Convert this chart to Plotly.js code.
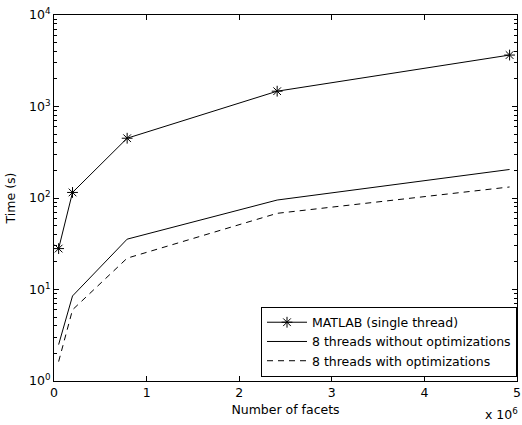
<!DOCTYPE html>
<html>
<head>
<meta charset="utf-8">
<script src="https://cdn.plot.ly/plotly-3.0.1.min.js"></script>
<style>html,body{margin:0;padding:0;background:#fff;}#chart{width:522px;height:425px;}</style>
</head>
<body>
<div id="chart"></div>
<script>
var facets = [0.05e6, 0.2e6, 0.79e6, 2.41e6, 4.92e6];
var matlabTimes = [28, 115, 450, 1470, 3650];
var noOptTimes = [2.5, 8.5, 35.5, 95, 205];
var optTimes = [1.63, 6.0, 22, 68, 132];
var seriesNames = ["MATLAB (single thread)", "8 threads without optimizations", "8 threads with optimizations"];
var xTickVals = [0, 1e6, 2e6, 3e6, 4e6, 5e6];
var xTickText = ["0", "1", "2", "3", "4", "5"];
var yTickVals = [1, 10, 100, 1000, 10000];
var yTickText = ["10<sup>0</sup>", "10<sup>1</sup>", "10<sup>2</sup>", "10<sup>3</sup>", "10<sup>4</sup>"];

var minorVals = [];
for (var d = 0; d < 4; d++) {
  for (var m = 2; m <= 9; m++) minorVals.push(m * Math.pow(10, d));
}

var font = {family: "DejaVu Sans, sans-serif", size: 12.5, color: "#000"};

var traces = [
  {x: facets, y: matlabTimes, name: seriesNames[0], mode: "lines+markers",
   line: {color: "#000", width: 1},
   marker: {symbol: "asterisk-open", size: 9, color: "#000", line: {color: "#000", width: 1}}},
  {x: facets, y: noOptTimes, name: seriesNames[1], mode: "lines",
   line: {color: "#000", width: 1}},
  {x: facets, y: optTimes, name: seriesNames[2], mode: "lines",
   line: {color: "#000", width: 1, dash: "6px,5px"}}
];

var layout = {
  width: 522, height: 425,
  margin: {l: 54, r: 5, t: 15, b: 44, pad: 0},
  paper_bgcolor: "#fff", plot_bgcolor: "#fff",
  font: font,
  showlegend: true,
  legend: {
    x: 1, xanchor: "right", y: 0.012, yanchor: "bottom",
    bgcolor: "#fff", bordercolor: "#000", borderwidth: 1,
    font: font, itemwidth: 40, tracegroupgap: 0
  },
  xaxis: {
    range: [0, 5e6], showgrid: false, zeroline: false,
    showline: true, linecolor: "#000", linewidth: 1, mirror: "ticks",
    ticks: "inside", ticklen: 5, tickcolor: "#000",
    tickvals: xTickVals, ticktext: xTickText, tickfont: font,
    title: {text: "Number of facets", font: font, standoff: 6}
  },
  yaxis: {
    type: "log", range: [0, 4], showgrid: false, zeroline: false,
    showline: true, linecolor: "#000", linewidth: 1, mirror: "ticks",
    ticks: "inside", ticklen: 5, tickcolor: "#000",
    tickvals: yTickVals, ticktext: yTickText, tickfont: font,
    minor: {tickvals: minorVals, ticks: "inside", ticklen: 3, tickcolor: "#000", showgrid: false},
    title: {text: "Time (s)", font: font, standoff: 10}
  },
  annotations: [{
    text: "x 10<sup>6</sup>", xref: "paper", yref: "paper",
    x: 1.007, y: -0.062, xanchor: "right", yanchor: "top",
    showarrow: false, font: font
  }]
};

Plotly.newPlot("chart", traces, layout, {displayModeBar: false, staticPlot: true});
</script>
</body>
</html>
